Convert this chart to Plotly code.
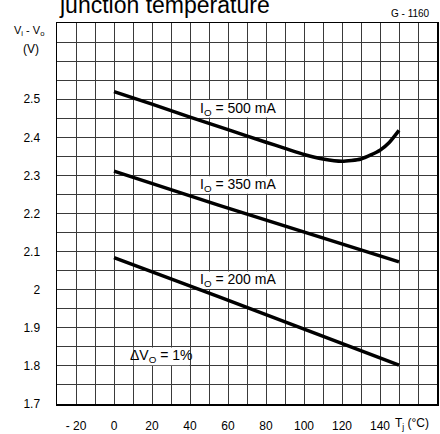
import plotly.graph_objects as go

# ---- data ----
t_500 = [0, 20, 40, 60, 80, 90, 100, 110, 120, 130, 140, 145, 150]
v_500 = [2.52, 2.487, 2.453, 2.42, 2.387, 2.371, 2.355, 2.343, 2.337, 2.343, 2.366, 2.387, 2.418]
t_350 = [0, 55, 150]
v_350 = [2.311, 2.222, 2.073]
t_200 = [0, 55, 150]
v_200 = [2.084, 1.982, 1.802]

x_tickvals = [-20, 0, 20, 40, 60, 80, 100, 120, 140]
x_ticktext = ["- 20", "0", "20", "40", "60", "80", "100", "120", "140"]
y_tickvals = [1.7, 1.8, 1.9, 2.0, 2.1, 2.2, 2.3, 2.4, 2.5]
y_ticktext = ["1.7", "1.8", "1.9", "2", "2.1", "2.2", "2.3", "2.4", "2.5"]

curve_labels = ["I<sub>O</sub> = 500 mA", "I<sub>O</sub> = 350 mA", "I<sub>O</sub> = 200 mA",
                "ΔV<sub>O</sub> = 1%"]
# label cells: (x0, x1, y0, y1)
label_cells = [(40, 90, 2.45, 2.50), (40, 90, 2.25, 2.30), (40, 90, 2.00, 2.05), (10, 40, 1.80, 1.85)]

W, H = 440, 434
ML, MR, MT, MB = 57, 1, 23, 28
PW, PH = W - ML - MR, H - MT - MB

def px_x(p):
    return (p - ML) / PW

def px_y(p):
    return (H - MB - p) / PH

FONT = "Liberation Sans, Arial, sans-serif"
GRID = "#3a3a3a"

fig = go.Figure()
for t, v in [(t_500, v_500), (t_350, v_350), (t_200, v_200)]:
    fig.add_trace(go.Scatter(x=t, y=v, mode="lines",
                             line=dict(color="black", width=3.5, shape="spline", smoothing=0.6),
                             hoverinfo="skip", showlegend=False))

shapes = []
annotations = []
for (x0, x1, y0, y1), txt in zip(label_cells, curve_labels):
    shapes.append(dict(type="rect", xref="x", yref="y", x0=x0 + 0.4, x1=x1 - 0.4,
                       y0=y0 + 0.002, y1=y1 - 0.002, fillcolor="white",
                       line=dict(width=0), layer="between"))
    annotations.append(dict(x=(x0 + x1) / 2, y=(y0 + y1) / 2, xref="x", yref="y",
                            text=txt, showarrow=False,
                            font=dict(family=FONT, size=14, color="black")))

annotations += [
    dict(x=px_x(57), y=px_y(20), xref="paper", yref="paper", xanchor="left", yanchor="bottom",
         text="junction temperature", showarrow=False,
         font=dict(family=FONT, size=23, color="black")),
    dict(x=px_x(434), y=px_y(13), xref="paper", yref="paper", xanchor="right", yanchor="middle",
         text="G - 1160", showarrow=False, font=dict(family=FONT, size=10, color="black")),
    dict(x=px_x(46), y=px_y(31), xref="paper", yref="paper", xanchor="right", yanchor="middle",
         text="V<sub>i</sub> - V<sub>o</sub>", showarrow=False,
         font=dict(family=FONT, size=11, color="black")),
    dict(x=px_x(41), y=px_y(49), xref="paper", yref="paper", xanchor="right", yanchor="middle",
         text="(V)", showarrow=False, font=dict(family=FONT, size=12, color="black")),
    dict(x=px_x(395), y=px_y(426), xref="paper", yref="paper", xanchor="left", yanchor="middle",
         text="T<sub>j</sub> (°C)", showarrow=False, font=dict(family=FONT, size=12, color="black")),
]

fig.update_layout(
    width=W, height=H,
    margin=dict(l=ML, r=MR, t=MT, b=MB, pad=0),
    paper_bgcolor="white", plot_bgcolor="white",
    shapes=shapes, annotations=annotations,
    font=dict(family=FONT, size=12, color="black"),
)
fig.update_xaxes(range=[-30, 170], tickvals=x_tickvals, ticktext=x_ticktext,
                 showgrid=True, gridcolor=GRID, gridwidth=1,
                 minor=dict(tick0=-30, dtick=10, showgrid=True, gridcolor=GRID, gridwidth=1),
                 showline=True, mirror=True, linecolor="black", linewidth=1.5,
                 ticks="outside", ticklen=10, tickcolor="rgba(0,0,0,0)",
                 zeroline=False, tickfont=dict(size=12, family=FONT))
fig.update_yaxes(range=[1.7, 2.7], tickvals=y_tickvals, ticktext=y_ticktext,
                 showgrid=True, gridcolor=GRID, gridwidth=1,
                 minor=dict(tick0=1.7, dtick=0.05, showgrid=True, gridcolor=GRID, gridwidth=1),
                 showline=True, mirror=True, linecolor="black", linewidth=1.5,
                 ticks="outside", ticklen=13, tickcolor="rgba(0,0,0,0)",
                 zeroline=False, tickfont=dict(size=12, family=FONT))

fig.write_html("out.html", config={"displayModeBar": False, "staticPlot": True},
               post_script="document.body.style.margin='0';document.body.style.padding='0';")
